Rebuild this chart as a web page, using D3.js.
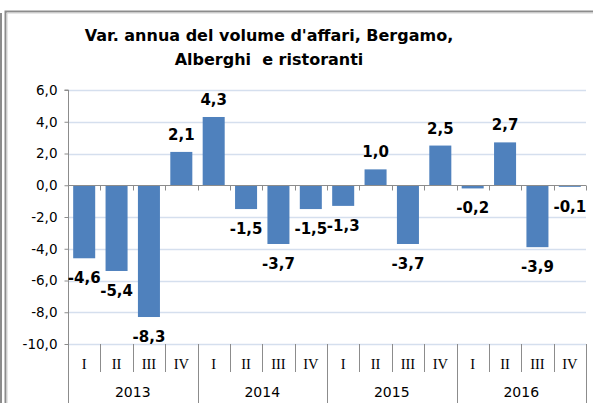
<!DOCTYPE html>
<html>
<head>
<meta charset="utf-8">
<script src="https://cdn.jsdelivr.net/npm/d3@7"></script>
<style>
  html, body { margin: 0; padding: 0; background: #fff; }
  svg { display: block; }
</style>
</head>
<body>
<svg id="chart" width="593" height="403"></svg>
<script>
// Quarterly year-on-year change in business volume, hotels and restaurants, Bergamo
const years = ["2013", "2014", "2015", "2016"];
const quarters = ["I", "II", "III", "IV"];
const values = [
  -4.6, -5.4, -8.3, 2.1,
   4.3, -1.5, -3.7, -1.5,
  -1.3,  1.0, -3.7, 2.5,
  -0.2,  2.7, -3.9, -0.1
];
const yTicks = [-10, -8, -6, -4, -2, 0, 2, 4, 6];
const titleLines = ["Var. annua del volume d'affari, Bergamo,", "Alberghi  e ristoranti"];

const rows = [];
years.forEach((yr, yi) => quarters.forEach((q, qi) => {
  rows.push({ key: yr + "-" + q, year: yr, quarter: q, value: values[yi * 4 + qi] });
}));

const it = d3.formatLocale({ decimal: ",", thousands: ".", grouping: [3], currency: ["", "€"], minus: "-" });
const fmt = it.format(".1f");

const svg = d3.select("#chart");
const plotLeft = 68, plotRight = 586, plotTop = 90, plotBottom = 344;
const sans = "'DejaVu Sans', Verdana, sans-serif";

const x = d3.scaleBand().domain(rows.map(d => d.key)).range([plotLeft, plotRight])
  .paddingInner(0.32).paddingOuter(0.16);
const y = d3.scaleLinear().domain([-10, 6]).range([plotBottom, plotTop]);
const step = x.step();

// outer frame
svg.append("line").attr("x1", 1).attr("x2", 1).attr("y1", 13).attr("y2", 403)
  .attr("stroke", "#8c8c8c").attr("stroke-width", 2);
svg.append("path").attr("d", "M5.5,403 V11.5 H593")
  .attr("fill", "none").attr("stroke", "#8c8c8c").attr("stroke-width", 2);
svg.append("path").attr("d", "M7,403 V13 H593")
  .attr("fill", "none").attr("stroke", "#d0d0d0").attr("stroke-width", 1);

// title
svg.append("text").attr("text-anchor", "middle").attr("font-family", sans)
  .attr("font-weight", "bold").attr("font-size", 16).attr("fill", "#000")
  .style("white-space", "pre")
  .selectAll("tspan").data(titleLines).join("tspan")
  .attr("x", 269).attr("y", (d, i) => 41 + i * 24)
  .text(d => d);

// horizontal gridlines
svg.append("g").selectAll("line").data(yTicks.filter(t => t !== 0)).join("line")
  .attr("x1", plotLeft).attr("x2", plotRight)
  .attr("y1", d => Math.round(y(d)) + 0.5).attr("y2", d => Math.round(y(d)) + 0.5)
  .attr("stroke", "#d5dfee").attr("stroke-width", 1.5);

// y axis
const yAxis = svg.append("g").attr("transform", `translate(${plotLeft + 0.5},0)`)
  .call(d3.axisLeft(y).tickValues(yTicks).tickFormat(fmt).tickSize(4).tickPadding(7));
yAxis.select(".domain").attr("stroke", "#8c8c8c").attr("d", `M-4,${y(6)}H0V${y(-10)}`);
yAxis.selectAll(".tick line").attr("stroke", "#8c8c8c");
yAxis.selectAll(".tick text").attr("font-family", sans).attr("font-size", 13.5).attr("fill", "#000");

// bars
svg.append("g").selectAll("rect").data(rows).join("rect")
  .attr("x", d => x(d.key))
  .attr("width", x.bandwidth())
  .attr("y", d => y(Math.max(0, d.value)))
  .attr("height", d => Math.abs(y(d.value) - y(0)))
  .attr("fill", "#4f81bd");

// zero axis with category ticks
const zy = Math.round(y(0)) + 0.5;
svg.append("line").attr("x1", plotLeft).attr("x2", plotRight).attr("y1", zy).attr("y2", zy)
  .attr("stroke", "#8c8c8c").attr("stroke-width", 1);
svg.append("g").selectAll("line").data(d3.range(1, rows.length + 1)).join("line")
  .attr("x1", i => Math.round(plotLeft + i * step) + 0.5).attr("x2", i => Math.round(plotLeft + i * step) + 0.5)
  .attr("y1", zy).attr("y2", zy + 5)
  .attr("stroke", "#8c8c8c");

// value labels
svg.append("g").selectAll("text").data(rows).join("text")
  .attr("x", d => x(d.key) + x.bandwidth() / 2)
  .attr("y", d => d.value >= 0 ? y(d.value) - 12 : y(d.value) + 25)
  .attr("text-anchor", "middle")
  .attr("font-family", sans).attr("font-weight", "bold").attr("font-size", 15)
  .attr("fill", "#000")
  .text(d => fmt(d.value));

// two-level category axis
const cat = svg.append("g");
cat.selectAll("line.q").data(d3.range(0, rows.length + 1)).join("line")
  .attr("class", "q")
  .attr("x1", i => Math.round(plotLeft + i * step) + 0.5).attr("x2", i => Math.round(plotLeft + i * step) + 0.5)
  .attr("y1", plotBottom).attr("y2", i => i % 4 === 0 ? 403 : 372)
  .attr("stroke", "#8c8c8c");
cat.selectAll("text.q").data(rows).join("text")
  .attr("class", "q")
  .attr("x", d => x(d.key) + x.bandwidth() / 2).attr("y", 369)
  .attr("text-anchor", "middle")
  .attr("font-family", "'Liberation Serif', 'Times New Roman', serif").attr("font-size", 14.5)
  .attr("fill", "#000")
  .text(d => d.quarter);
cat.selectAll("text.y").data(years).join("text")
  .attr("class", "y")
  .attr("x", (d, i) => plotLeft + (i * 4 + 2) * step).attr("y", 397)
  .attr("text-anchor", "middle")
  .attr("font-family", sans).attr("font-size", 14)
  .attr("fill", "#000")
  .text(d => d);
</script>
</body>
</html>
